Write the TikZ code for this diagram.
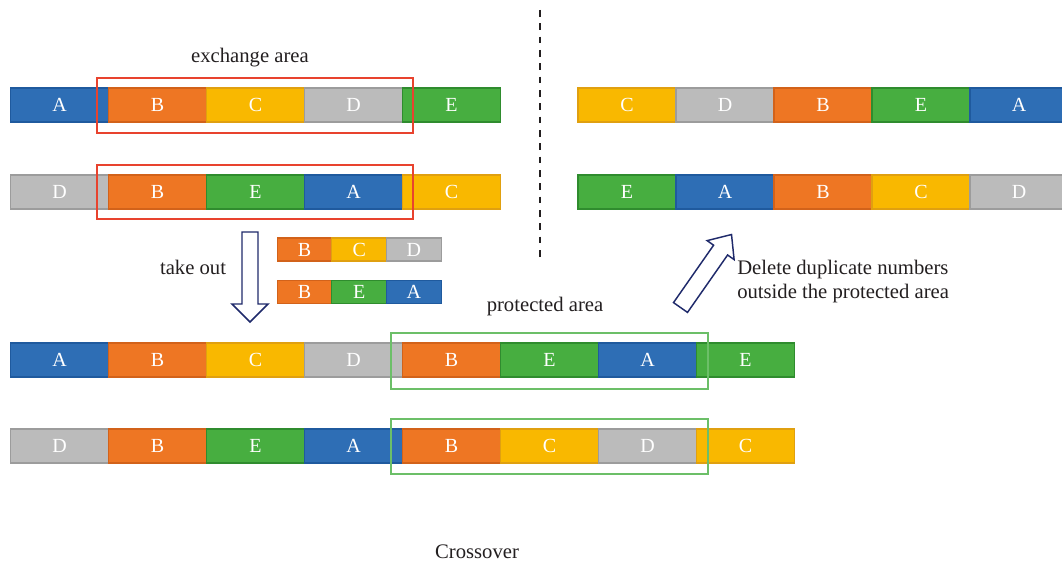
\documentclass[tikz,border=0pt]{standalone}
\usepackage{fontspec}
\setmainfont{Liberation Serif}
\definecolor{fA}{HTML}{2E6EB5}\definecolor{bA}{HTML}{1F5A9E}
\definecolor{fB}{HTML}{EE7623}\definecolor{bB}{HTML}{D2621A}
\definecolor{fC}{HTML}{F9B800}\definecolor{bC}{HTML}{E0A010}
\definecolor{fD}{HTML}{BBBBBB}\definecolor{bD}{HTML}{9C9C9C}
\definecolor{fE}{HTML}{47AE40}\definecolor{bE}{HTML}{2F8C2E}
\definecolor{exred}{HTML}{E8432E}
\definecolor{prgreen}{HTML}{6CBF68}
\definecolor{arrnavy}{HTML}{1F2A6B}
\definecolor{txt}{HTML}{231F20}
\tikzset{
  x=0.75pt, y=-0.75pt,
  cell/.style={minimum width=73.5pt, minimum height=25.5pt, inner sep=0pt, text=white,
    font=\fontsize{15}{18}\selectfont, line width=0.9pt},
  small/.style={minimum width=41pt, minimum height=17.25pt},
  gA/.style={cell, fill=fA, draw=bA},
  gB/.style={cell, fill=fB, draw=bB},
  gC/.style={cell, fill=fC, draw=bC},
  gD/.style={cell, fill=fD, draw=bD},
  gE/.style={cell, fill=fE, draw=bE},
  lbl/.style={text=txt, font=\fontsize{15.5}{18}\selectfont, inner sep=0pt},
  exbox/.style={draw=exred, line width=0.9pt},
  prbox/.style={draw=prgreen, line width=0.9pt},
  blockarrow/.style={draw=arrnavy, fill=white, line width=1.1pt, line join=miter},
}
\begin{document}
\begin{tikzpicture}
\clip (0,0) rectangle (1062,567);
\fill[white] (0,0) rectangle (1062,567);
% top-left parents
\foreach \l [count=\i] in {A,B,C,D,E}
  \node[g\l] (p1c\i) at ({59.5+98*(\i-1)},105) {\l};
\foreach \l [count=\i] in {D,B,E,A,C}
  \node[g\l] (p2c\i) at ({59.5+98*(\i-1)},192) {\l};
\draw[exbox] (97,78) rectangle (413,133);
\draw[exbox] (97,165) rectangle (413,219);
\node[lbl] (exlbl) at (250,58) {exchange area};
% dashed separator
\coordinate (dtop) at (540,10);
\coordinate (dbot) at (540,258);
\draw[txt, line width=0.9pt, dash pattern=on 5pt off 5pt] (dtop) -- (dbot);
% right results
\foreach \l [count=\i] in {C,D,B,E,A}
  \node[g\l] (o1c\i) at ({627+98*(\i-1)},105) {\l};
\foreach \l [count=\i] in {E,A,B,C,D}
  \node[g\l] (o2c\i) at ({627+98*(\i-1)},192) {\l};
% taken out segments
\foreach \l [count=\i] in {B,C,D}
  \node[g\l, small] (s1c\i) at ({304.5+54.7*(\i-1)},249.5) {\l};
\foreach \l [count=\i] in {B,E,A}
  \node[g\l, small] (s2c\i) at ({304.5+54.7*(\i-1)},292) {\l};
% down arrow
\draw[blockarrow] (242,232) -- (258,232) -- (258,304) -- (268,304) -- (250,322) -- (232,304) -- (242,304) -- cycle;
\node[lbl] (takeout) at (193,267) {take out};
% diagonal arrow
\draw[blockarrow] (687.5,312.4) -- (727.6,255.0) -- (734.1,259.6) -- (731.5,234.5) -- (707.1,240.6) -- (713.6,245.2) -- (673.5,302.6) -- cycle;
\node[lbl, anchor=west, align=left] (dellbl) at (737,282) {Delete duplicate numbers\\outside the protected area};
% bottom rows
\node[lbl] (prlbl) at (545,307) {protected area};
\foreach \l [count=\i] in {A,B,C,D,B,E,A,E}
  \node[g\l] (c1c\i) at ({59.5+98*(\i-1)},360) {\l};
\foreach \l [count=\i] in {D,B,E,A,B,C,D,C}
  \node[g\l] (c2c\i) at ({59.5+98*(\i-1)},446) {\l};
\draw[prbox] (391,333) rectangle (708,389);
\draw[prbox] (391,419) rectangle (708,474);
\node[lbl] (caption) at (477,552) {Crossover};
\end{tikzpicture}
\end{document}
